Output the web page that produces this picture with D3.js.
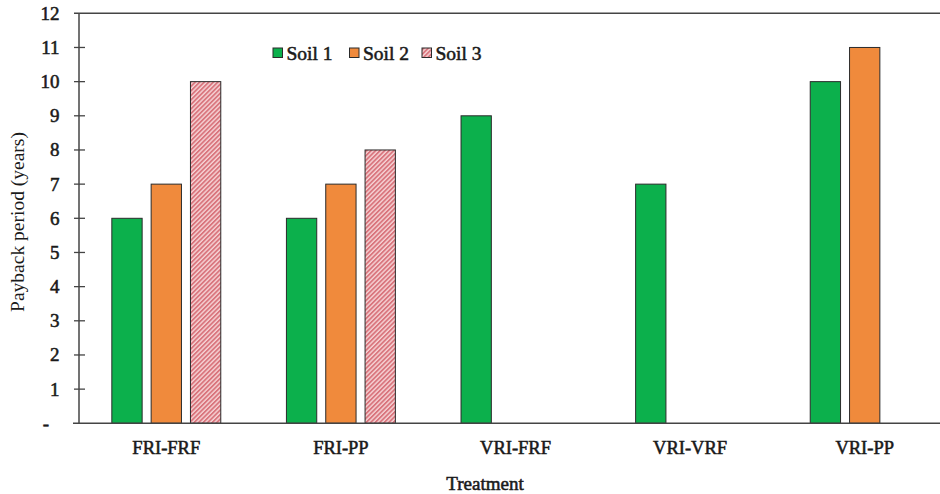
<!DOCTYPE html>
<html>
<head>
<meta charset="utf-8">
<script src="https://cdn.jsdelivr.net/npm/d3@7"></script>
<style>
  html, body { margin: 0; padding: 0; background: #fff; }
  svg { display: block; }
  text { font-family: "Times New Roman", Times, "Liberation Serif", serif; fill: #1a1a1a; }
  text.b { stroke: #1a1a1a; stroke-width: 0.55px; }
</style>
</head>
<body>
<svg id="chart" width="940" height="494"></svg>
<script>
const categories = ["FRI-FRF", "FRI-PP", "VRI-FRF", "VRI-VRF", "VRI-PP"];
const seriesNames = ["Soil 1", "Soil 2", "Soil 3"];
const soil1 = [6, 6, 9, 7, 10];
const soil2 = [7, 7, null, null, 11];
const soil3 = [10, 8, null, null, null];
const yTicks = [0, 1, 2, 3, 4, 5, 6, 7, 8, 9, 10, 11, 12];
const yTickLabels = ["-", "1", "2", "3", "4", "5", "6", "7", "8", "9", "10", "11", "12"];

(function () {
const seriesValues = [soil1, soil2, soil3];
const colors = ["#0cb04c", "#f08a3c", "url(#hatch)"];

const svg = d3.select("#chart");
const W = 940;
const pLeft = 79, pRight = 952, pTop = 13.3, pBottom = 423.3;

const defs = svg.append("defs");
const pat = defs.append("pattern")
  .attr("id", "hatch")
  .attr("patternUnits", "userSpaceOnUse")
  .attr("width", 3.2).attr("height", 3.2)
  .attr("patternTransform", "rotate(45)");
pat.append("rect").attr("width", 3.2).attr("height", 3.2).attr("fill", "#f6d3d5");
pat.append("rect").attr("width", 1.8).attr("height", 3.2).attr("fill", "#d9757d");

const x0 = d3.scaleBand().domain(categories).range([pLeft, pRight]).padding(0);
const x1 = d3.scaleBand().domain(seriesNames).range([0, x0.bandwidth()])
  .paddingInner(0.229).paddingOuter(0.835);
const y = d3.scaleLinear().domain([0, 12]).range([pBottom, pTop]);

const rows = [];
categories.forEach((c, i) => {
  seriesNames.forEach((s, j) => {
    const v = seriesValues[j][i];
    if (v !== null && v !== undefined) rows.push({ c, s, j, v });
  });
});

svg.append("g").selectAll("rect")
  .data(rows)
  .join("rect")
  .attr("x", d => x0(d.c) + x1(d.s))
  .attr("y", d => y(d.v))
  .attr("width", x1.bandwidth())
  .attr("height", d => y(0) - y(d.v))
  .attr("fill", d => colors[d.j])
  .attr("stroke", "#2b2b2b")
  .attr("stroke-width", 1);

svg.append("line")
  .attr("x1", 74).attr("x2", W)
  .attr("y1", y(12)).attr("y2", y(12))
  .attr("stroke", "#444").attr("stroke-width", 1.5);

svg.append("line")
  .attr("x1", 73).attr("x2", W)
  .attr("y1", y(0)).attr("y2", y(0))
  .attr("stroke", "#444").attr("stroke-width", 1.5);

svg.append("line")
  .attr("x1", pLeft).attr("x2", pLeft)
  .attr("y1", y(12)).attr("y2", y(0))
  .attr("stroke", "#444").attr("stroke-width", 1.5);

const yg = svg.append("g");
yg.selectAll("line")
  .data(yTicks.filter(t => t > 0 && t < 12))
  .join("line")
  .attr("x1", 74).attr("x2", 85)
  .attr("y1", d => y(d)).attr("y2", d => y(d))
  .attr("stroke", "#444").attr("stroke-width", 1.3);

yg.selectAll("text")
  .data(yTicks)
  .join("text")
  .attr("class", "b")
  .attr("x", d => d === 0 ? 49 : 59.5)
  .attr("y", d => y(d) + 6.5)
  .attr("text-anchor", "end")
  .attr("font-size", 19)
  .text((d, i) => yTickLabels[i]);

svg.append("g").selectAll("text")
  .data(categories)
  .join("text")
  .attr("class", "b")
  .attr("x", d => x0(d) + x0.bandwidth() / 2)
  .attr("y", 454)
  .attr("text-anchor", "middle")
  .attr("font-size", 18.5)
  .text(d => d);

svg.append("text")
  .attr("class", "b")
  .attr("x", 485).attr("y", 490)
  .attr("text-anchor", "middle")
  .attr("font-size", 19)
  .text("Treatment");

svg.append("text")
  .attr("transform", "translate(24,222) rotate(-90)")
  .attr("text-anchor", "middle")
  .attr("font-size", 19.5)
  .text("Payback period (years)");

const legX = [273, 349.5, 422];
const lg = svg.append("g");
seriesNames.forEach((s, j) => {
  lg.append("rect")
    .attr("x", legX[j]).attr("y", 48)
    .attr("width", 9.5).attr("height", 9.5)
    .attr("fill", colors[j])
    .attr("stroke", "#2b2b2b").attr("stroke-width", 1);
  lg.append("text")
    .attr("class", "b")
    .attr("x", legX[j] + 13.5).attr("y", 59.5)
    .attr("font-size", 19.5)
    .text(s);
});
})();
</script>
</body>
</html>
